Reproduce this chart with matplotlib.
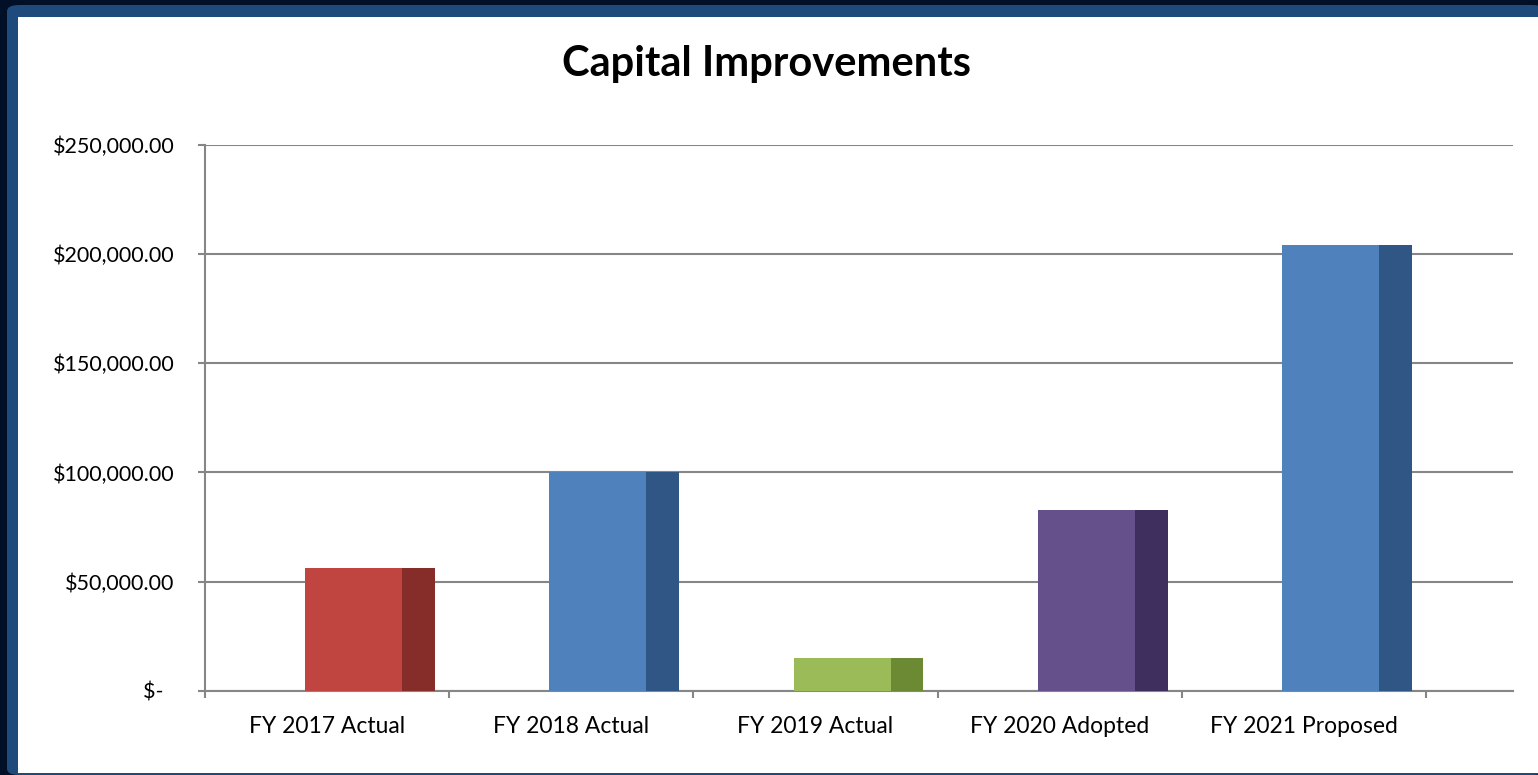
import matplotlib.pyplot as plt
from matplotlib.patches import Rectangle, FancyBboxPatch
from matplotlib.ticker import FuncFormatter

categories = ["FY 2017 Actual", "FY 2018 Actual", "FY 2019 Actual",
              "FY 2020 Adopted", "FY 2021 Proposed"]
values = [56000, 100000, 15000, 83000, 204000]
front_colors = ["#c0443f", "#4f81bd", "#9bbb59", "#65508c", "#4f81bd"]
side_colors = ["#862c29", "#2f5684", "#6b8a33", "#3f2f5f", "#2f5684"]
yticks = [0, 50000, 100000, 150000, 200000, 250000]

plt.rcParams['font.family'] = ['Lato', 'DejaVu Sans']
plt.rcParams['ytick.major.pad'] = 17
plt.rcParams['ytick.major.size'] = 5
plt.rcParams['xtick.major.pad'] = 18

fig = plt.figure(figsize=(15.38, 7.75), dpi=100)
fig.patch.set_facecolor("#011026")

W, H = 1538.0, 775.0
# blue frame and white panel behind the chart
fig.patches.append(FancyBboxPatch((7 / W, 0), 1, (H - 5) / H,
                                  boxstyle="round,pad=0,rounding_size=0.008",
                                  transform=fig.transFigure,
                                  facecolor="#1f4a7c", edgecolor="none", zorder=0))
fig.patches.append(Rectangle((18 / W, 2 / H), 1, (H - 19) / H,
                             transform=fig.transFigure,
                             facecolor="white", edgecolor="none", zorder=1))

ax = fig.add_axes([205 / W, 1 - 690.7 / H, (1513 - 205) / W, (690.7 - 145) / H])
ax.set_zorder(2)
ax.set_facecolor("none")

# front face plus a darker side face for each bar
x = range(len(categories))
ax.bar([i - 0.09 for i in x], values, width=0.397, align="edge",
       color=front_colors, zorder=3)
ax.bar([i + 0.307 for i in x], values, width=0.135, align="edge",
       color=side_colors, zorder=3)

ax.set_ylim(0, 250000)
ax.set_xlim(-0.5, 4.856)
ax.set_yticks(yticks)
ax.yaxis.set_major_formatter(FuncFormatter(
    lambda v, p: "$-  " if v == 0 else f"${v:,.2f}"))
ax.set_xticks(range(len(categories)))
ax.set_xticklabels(categories)
ax.set_xticks([i - 0.5 for i in range(len(categories) + 1)], minor=True)

ax.grid(axis="y", color="#868686", linewidth=1.5, zorder=0)
for s in ["top", "right"]:
    ax.spines[s].set_visible(False)
for s in ["left", "bottom"]:
    ax.spines[s].set_color("#868686")
    ax.spines[s].set_linewidth(1.5)

ax.tick_params(axis="y", width=1.5, color="#868686", labelsize=15.5)
ax.tick_params(axis="x", which="major", length=0, labelsize=16.5)
ax.tick_params(axis="x", which="minor", length=5, width=1.5, color="#868686")

fig.text(767 / W, 1 - 76 / H, "Capital Improvements", ha="center", va="baseline",
         fontsize=30, fontweight="bold", zorder=3)

fig.savefig("out.png", dpi=100, facecolor=fig.get_facecolor())
